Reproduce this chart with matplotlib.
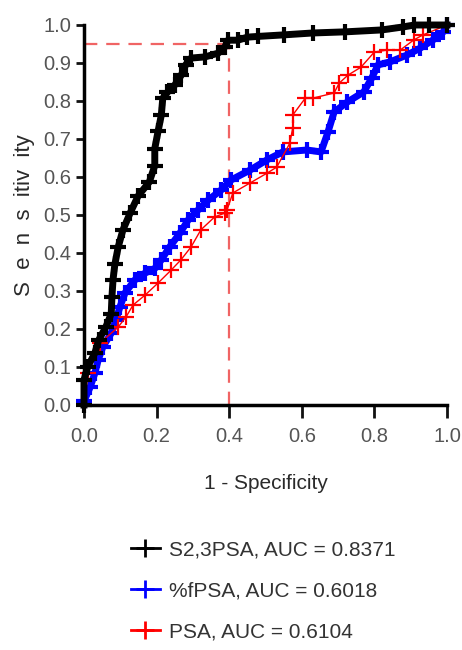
import matplotlib
matplotlib.use("Agg")
import matplotlib.pyplot as plt
from matplotlib.lines import Line2D

# ROC points (1 - specificity, sensitivity)
s23_fpr = [0.0, 0.0, 0.01, 0.03, 0.04, 0.06, 0.075, 0.077, 0.08, 0.085, 0.094,
           0.107, 0.127, 0.149, 0.18, 0.195, 0.195, 0.204, 0.213, 0.217, 0.23,
           0.25, 0.268, 0.28, 0.295, 0.333, 0.37, 0.388, 0.397, 0.424, 0.45,
           0.48, 0.55, 0.63, 0.72, 0.82, 0.88, 0.91, 0.95, 1.0]
s23_tpr = [0.0, 0.066, 0.1, 0.137, 0.17, 0.205, 0.24, 0.285, 0.33, 0.37, 0.415,
           0.46, 0.505, 0.55, 0.587, 0.63, 0.675, 0.72, 0.763, 0.807, 0.823,
           0.842, 0.868, 0.895, 0.913, 0.916, 0.926, 0.942, 0.96, 0.96, 0.968,
           0.97, 0.974, 0.979, 0.982, 0.987, 0.995, 1.0, 1.0, 1.0]

fpsa_fpr = [0.0, 0.017, 0.03, 0.039, 0.052, 0.075, 0.088, 0.099, 0.113, 0.14,
            0.168, 0.196, 0.213, 0.236, 0.264, 0.287, 0.314, 0.342, 0.378,
            0.405, 0.457, 0.504, 0.548, 0.614, 0.653, 0.672, 0.689, 0.725,
            0.771, 0.793, 0.81, 0.843, 0.89, 0.926, 0.962, 0.99, 1.0]
fpsa_tpr = [0.01, 0.047, 0.084, 0.118, 0.153, 0.189, 0.224, 0.258, 0.295, 0.329,
            0.347, 0.36, 0.382, 0.416, 0.452, 0.487, 0.513, 0.539, 0.566,
            0.592, 0.618, 0.645, 0.666, 0.671, 0.666, 0.718, 0.771, 0.797,
            0.824, 0.861, 0.895, 0.903, 0.921, 0.939, 0.961, 0.982, 1.0]

psa_fpr = [0.0, 0.011, 0.044, 0.094, 0.116, 0.135, 0.168, 0.204, 0.24, 0.267,
           0.295, 0.322, 0.36, 0.388, 0.394, 0.41, 0.457, 0.504, 0.531, 0.567,
           0.575, 0.575, 0.61, 0.632, 0.689, 0.703, 0.727, 0.763, 0.8, 0.835,
           0.871, 0.909, 0.934, 1.0]
psa_tpr = [0.0, 0.084, 0.163, 0.205, 0.232, 0.263, 0.289, 0.321, 0.355, 0.382,
           0.416, 0.461, 0.495, 0.505, 0.513, 0.558, 0.584, 0.61, 0.626, 0.689,
           0.729, 0.763, 0.808, 0.808, 0.821, 0.847, 0.868, 0.889, 0.929, 0.934,
           0.934, 0.961, 0.974, 1.0]

labels = ["S2,3PSA, AUC = 0.8371", "%fPSA, AUC = 0.6018", "PSA, AUC = 0.6104"]
cut_fpr = 0.4
cut_tpr = 0.95

plt.rcParams['font.family'] = ['Liberation Sans', 'DejaVu Sans']

fig = plt.figure(figsize=(4.62, 6.5), dpi=100)
ax = fig.add_axes([84 / 462, 1 - 405 / 650, 363 / 462, 380 / 650])

ax.plot([0, cut_fpr], [cut_tpr, cut_tpr], color='#f06464', lw=1.6, dashes=(6, 4))
ax.plot([cut_fpr, cut_fpr], [0, cut_tpr], color='#f06464', lw=1.6, dashes=(6, 4))

ax.plot(psa_fpr, psa_tpr, color='red', lw=1.0, marker='+', ms=11, mew=1.6,
        clip_on=False, zorder=3)
ax.plot(fpsa_fpr, fpsa_tpr, color='blue', lw=5, marker='+', ms=11, mew=3,
        clip_on=False, zorder=2)
ax.plot(s23_fpr, s23_tpr, color='black', lw=5, marker='+', ms=11, mew=3,
        clip_on=False, zorder=4)

ax.set_xlim(0, 1)
ax.set_ylim(0, 1)
ax.set_xticks([0, 0.2, 0.4, 0.6, 0.8, 1.0])
ax.set_yticks([i / 10 for i in range(11)])
ax.xaxis.set_major_formatter(matplotlib.ticker.FormatStrFormatter('%.1f'))
ax.yaxis.set_major_formatter(matplotlib.ticker.FormatStrFormatter('%.1f'))
for s in ['top', 'right']:
    ax.spines[s].set_visible(False)
for s in ['left', 'bottom']:
    ax.spines[s].set_linewidth(2.5)
ax.tick_params(axis='x', length=9, width=2, labelsize=14.5, colors='#111111',
               labelcolor='#555555', pad=7)
ax.tick_params(axis='y', length=6, width=2, labelsize=14.5, colors='#111111',
               labelcolor='#555555', pad=3)

ax.set_xlabel('1 - Specificity', fontsize=15, color='#2a2a2a', labelpad=20)
ax.set_ylabel('S  e  n  s  itiv  ity', fontsize=16, color='#2a2a2a', labelpad=6)

handles = [Line2D([], [], color=c, lw=2, marker='+', ms=13, mew=2)
           for c in ['black', 'blue', 'red']]
fig.legend(handles, labels, loc='upper left', bbox_to_anchor=(112 / 462, 1 - 522 / 650),
           frameon=False, fontsize=15, handlelength=1.4, handletextpad=0.45,
           labelspacing=1.05, labelcolor='#333333')

fig.savefig('out.png', dpi=100)
